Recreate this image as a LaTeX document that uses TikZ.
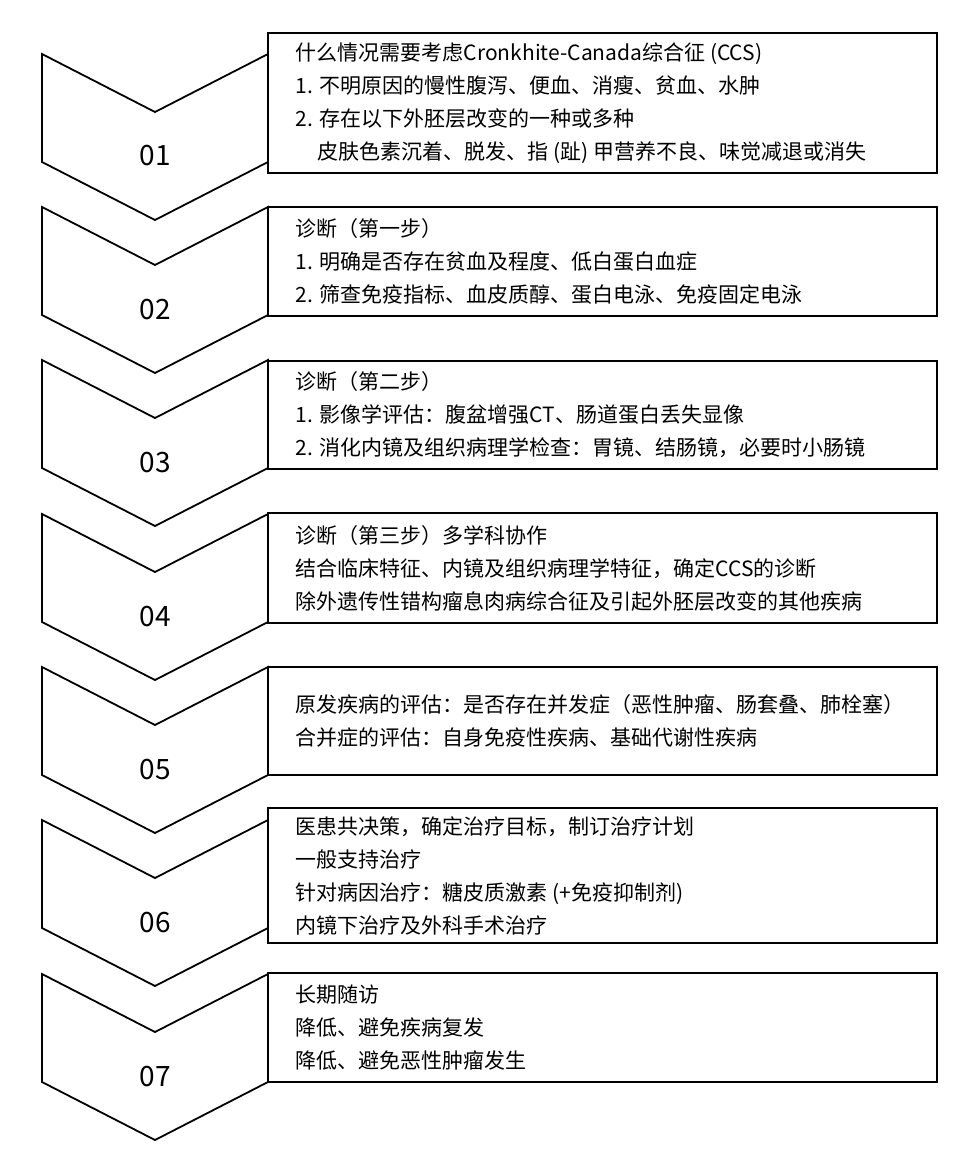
\documentclass[tikz,border=0pt]{standalone}
\usepackage{fontspec}
\setmainfont{Noto Sans CJK SC}
\usepackage{tikz}
\usetikzlibrary{positioning}

\begin{document}
\begin{tikzpicture}[
  x=1pt, y=-1pt,
  chev/.style={draw=black, line width=1.8pt, line join=miter},
  stepbox/.style={draw=black, line width=2.6pt, minimum width=669pt,
                  inner sep=0pt},
  txt/.style={anchor=west, align=left, inner sep=0pt,
              font=\fontsize{21}{33}\selectfont},
  num/.style={font=\fontsize{28}{28}\selectfont}
]
\useasboundingbox (0,0) rectangle (974,1169);

% chevrons down the left side
\draw[chev] (42,54) -- (155,112) -- (268,54) -- (268,162) -- (155,220) -- (42,162) -- cycle;
\draw[chev] (42,207) -- (155,265) -- (268,207) -- (268,315) -- (155,373) -- (42,315) -- cycle;
\draw[chev] (42,360) -- (155,418) -- (268,360) -- (268,468) -- (155,526) -- (42,468) -- cycle;
\draw[chev] (42,514) -- (155,572) -- (268,514) -- (268,622) -- (155,680) -- (42,622) -- cycle;
\draw[chev] (42,667) -- (155,725) -- (268,667) -- (268,775) -- (155,833) -- (42,775) -- cycle;
\draw[chev] (42,820) -- (155,878) -- (268,820) -- (268,928) -- (155,986) -- (42,928) -- cycle;
\draw[chev] (42,974) -- (155,1032) -- (268,974) -- (268,1082) -- (155,1140) -- (42,1082) -- cycle;

\node[num] (n1) at (155,156) {01};
\node[num] (n2) at (155,310) {02};
\node[num] (n3) at (155,463) {03};
\node[num] (n4) at (155,617) {04};
\node[num] (n5) at (155,770) {05};
\node[num] (n6) at (155,923) {06};
\node[num] (n7) at (155,1077) {07};

% boxes
\node[stepbox, minimum height=140pt] (b1) at (602.5,103) {};
\node[stepbox, minimum height=109pt] (b2) at (602.5,261.5) {};
\node[stepbox, minimum height=108pt] (b3) at (602.5,415) {};
\node[stepbox, minimum height=110pt] (b4) at (602.5,568) {};
\node[stepbox, minimum height=108pt] (b5) at (602.5,721) {};
\node[stepbox, minimum height=135pt] (b6) at (602.5,875.5) {};
\node[stepbox, minimum height=109pt] (b7) at (602.5,1027.5) {};

\node[txt, right=29pt of b1.west] (t1)
  {什么情况需要考虑Cronkhite-Canada综合征 (CCS)\\
   1. 不明原因的慢性腹泻、便血、消瘦、贫血、水肿\\
   2. 存在以下外胚层改变的一种或多种\\
   \hspace*{22pt}皮肤色素沉着、脱发、指 (趾) 甲营养不良、味觉减退或消失};
\node[txt, right=29pt of b2.west] (t2)
  {诊断（第一步）\\
   1. 明确是否存在贫血及程度、低白蛋白血症\\
   2. 筛查免疫指标、血皮质醇、蛋白电泳、免疫固定电泳};
\node[txt, right=29pt of b3.west] (t3)
  {诊断（第二步）\\
   1. 影像学评估：腹盆增强CT、肠道蛋白丢失显像\\
   2. 消化内镜及组织病理学检查：胃镜、结肠镜，必要时小肠镜};
\node[txt, right=29pt of b4.west] (t4)
  {诊断（第三步）多学科协作\\
   结合临床特征、内镜及组织病理学特征，确定CCS的诊断\\
   除外遗传性错构瘤息肉病综合征及引起外胚层改变的其他疾病};
\node[txt, right=29pt of b5.west] (t5)
  {原发疾病的评估：是否存在并发症（恶性肿瘤、肠套叠、肺栓塞）\\
   合并症的评估：自身免疫性疾病、基础代谢性疾病};
\node[txt, right=29pt of b6.west] (t6)
  {医患共决策，确定治疗目标，制订治疗计划\\
   一般支持治疗\\
   针对病因治疗：糖皮质激素 (+免疫抑制剂)\\
   内镜下治疗及外科手术治疗};
\node[txt, right=29pt of b7.west] (t7)
  {长期随访\\
   降低、避免疾病复发\\
   降低、避免恶性肿瘤发生};
\end{tikzpicture}
\end{document}
